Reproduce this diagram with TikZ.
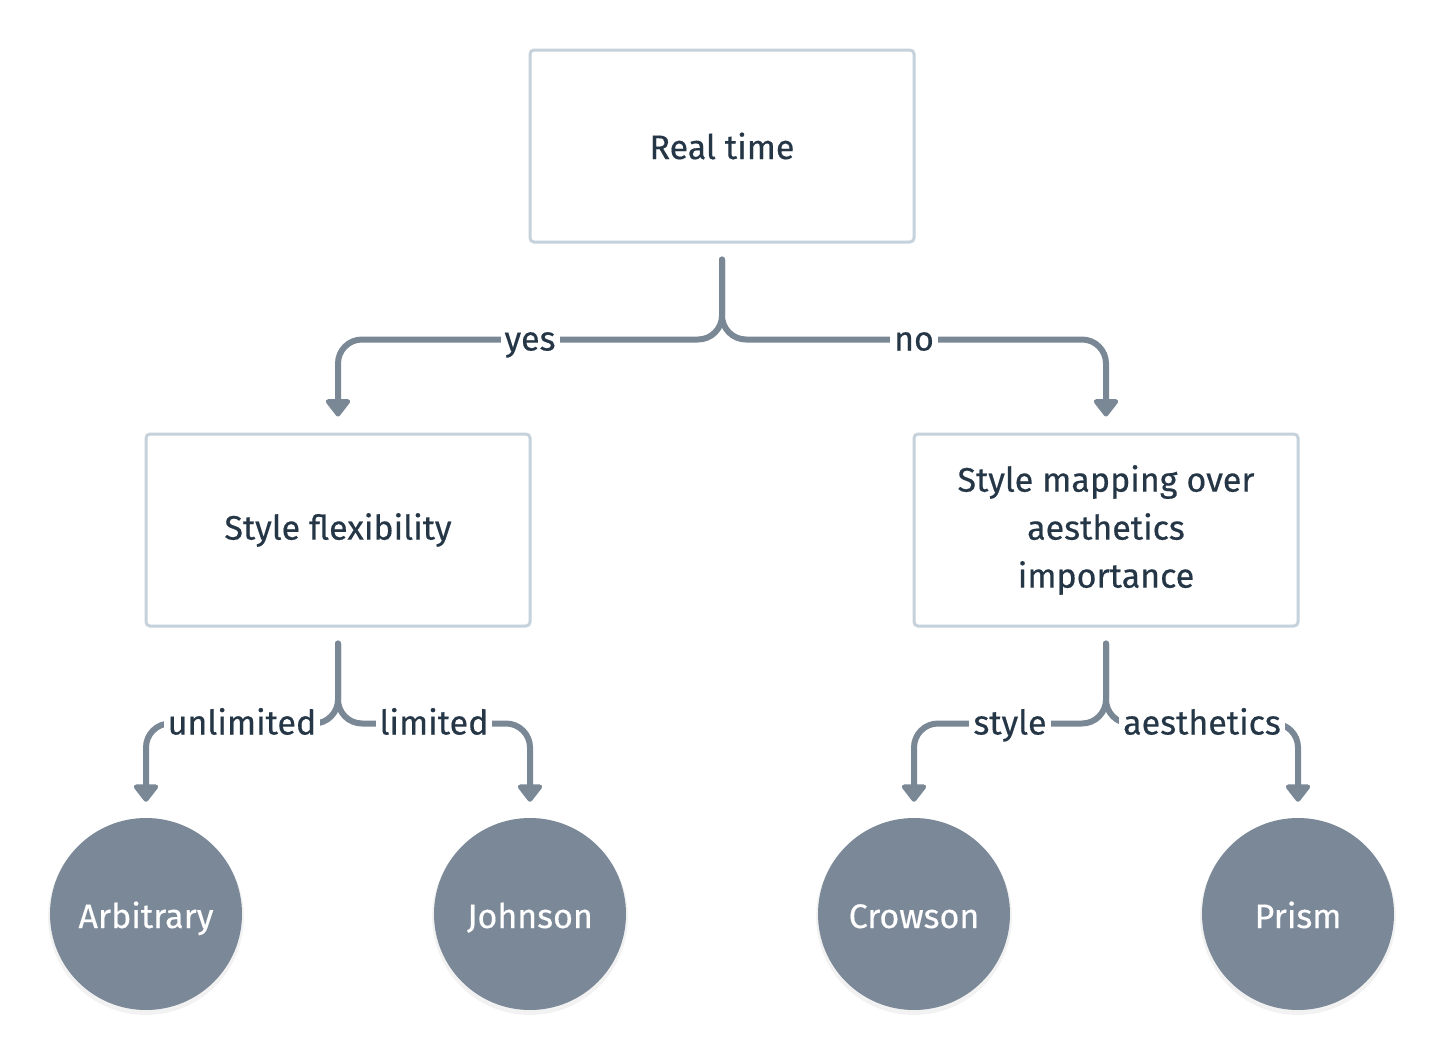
\documentclass[tikz,border=0pt]{standalone}
\usepackage{fontspec}
\setmainfont{Fira Sans}[FakeBold=0.4]
\usetikzlibrary{arrows.meta,shadows}
\definecolor{linec}{HTML}{7A8896}
\definecolor{boxc}{HTML}{C5D1DB}
\definecolor{textc}{HTML}{253646}
\definecolor{circc}{HTML}{7A8898}
\begin{document}
\begin{tikzpicture}[x=1pt,y=-1pt,
  font=\fontsize{34}{48}\selectfont,
  qbox/.style={draw=boxc,line width=3pt,rounded corners=4pt,fill=white,
    minimum width=384pt,minimum height=192pt,text=textc,align=center,inner sep=0pt},
  leaf/.style={circle,fill=circc,minimum size=192pt,inner sep=0pt,text=white,
    text height=28pt,text depth=0pt,
    drop shadow={shadow xshift=0pt,shadow yshift=-3pt,shadow scale=1.02,opacity=0.10}},
  conn/.style={draw=linec,line width=6pt,line cap=round,line join=round,rounded corners=24pt,
    -{Triangle[width=28pt,length=19pt,round]}},
  lbl/.style={fill=white,text=textc,inner xsep=4pt,inner ysep=2pt,
    text height=25pt,text depth=0pt}
]
\useasboundingbox (0,0) rectangle (1444,1060);
\node[qbox] (rt) at (722,146) {Real time};
\node[qbox] (sf) at (338,530) {Style flexibility};
\node[qbox] (sm) at (1106,530) {Style mapping over\\aesthetics\\importance};
\node[leaf] (arb) at (146,914) {Arbitrary};
\node[leaf] (joh) at (530,914) {Johnson};
\node[leaf] (cro) at (914,914) {Crowson};
\node[leaf] (pri) at (1298,914) {Prism};

\draw[conn] ([yshift=-16pt]rt.south) -- ++(0,80) -| ([yshift=16pt]sf.north);
\draw[conn] ([yshift=-16pt]rt.south) -- ++(0,80) -| ([yshift=16pt]sm.north);
\draw[conn] ([yshift=-16pt]sf.south) -- ++(0,80) -| ([yshift=16pt]arb.north);
\draw[conn] ([yshift=-16pt]sf.south) -- ++(0,80) -| ([yshift=16pt]joh.north);
\draw[conn] ([yshift=-16pt]sm.south) -- ++(0,80) -| ([yshift=16pt]cro.north);
\draw[conn] ([yshift=-16pt]sm.south) -- ++(0,80) -| ([yshift=16pt]pri.north);

\node[lbl] (lyes) at (530,338) {yes};
\node[lbl] (lno) at (914,338) {no};
\node[lbl] (lunl) at (242,722) {unlimited};
\node[lbl] (llim) at (434,722) {limited};
\node[lbl] (lsty) at (1010,722) {style};
\node[lbl] (laes) at (1202,722) {aesthetics};
\end{tikzpicture}
\end{document}
